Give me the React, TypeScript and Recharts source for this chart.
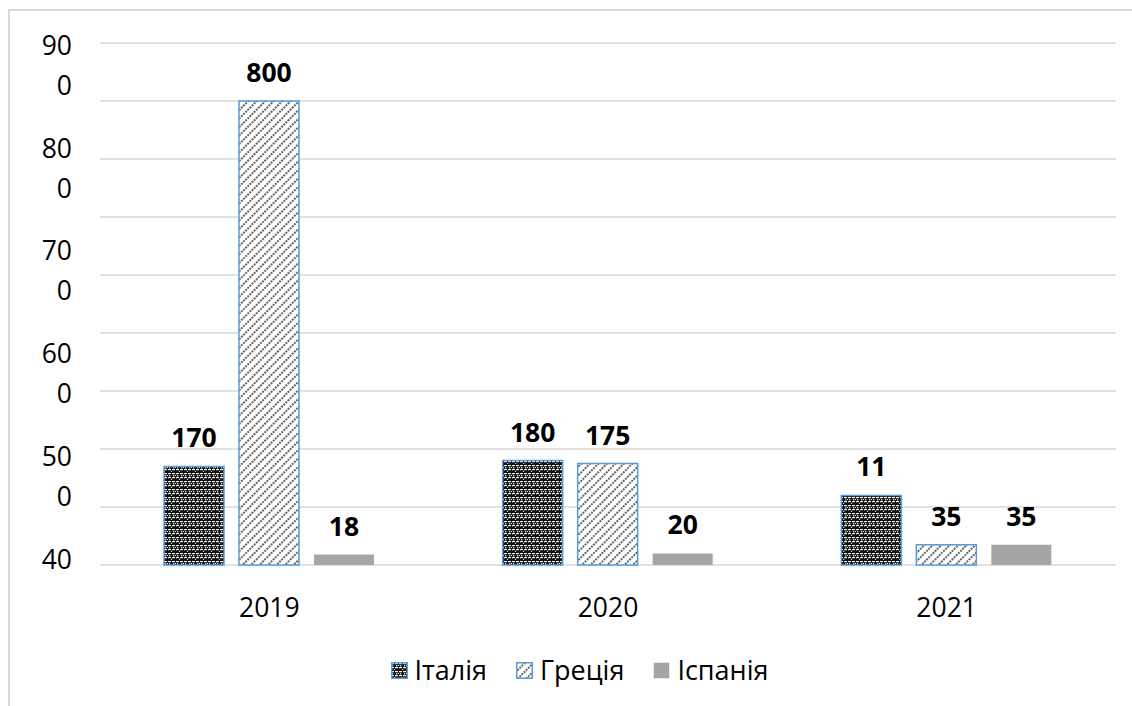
import { BarChart, Bar, XAxis, YAxis, CartesianGrid, LabelList } from "recharts";

const years = ["2019", "2020", "2021"];
const italy = [170, 180, 120];
const italyLabels = ["170", "180", "11"];
const greece = [800, 175, 35];
const spain = [18, 20, 35];

const valueTicks = [0, 100, 200, 300, 400, 500, 600, 700, 800, 900];
const axisLabels = [400, 500, 600, 700, 800, 900];

const series = [
  { key: "italy", name: "Італія", fill: "url(#italyPat)", stroke: "#5b9bd5" },
  { key: "greece", name: "Греція", fill: "url(#greecePat)", stroke: "#5b9bd5" },
  { key: "spain", name: "Іспанія", fill: "#a5a5a5", stroke: "none" },
];

const data = years.map((year, i) => ({
  year,
  italy: italy[i],
  italyLabel: italyLabels[i],
  greece: greece[i],
  spain: spain[i],
}));

const FONT = "'Open Sans', 'DejaVu Sans', sans-serif";
const FS = 26.5;

// підписи осі Y розбиті на два рядки, як в оригіналі
const SplitTick = (props: any) => {
  const { x, y, payload } = props;
  const s = String(payload.value);
  const first = s.slice(0, 2);
  const second = s.slice(2);
  const isLast = payload.value === axisLabels[0];
  return (
    <g>
      <text x={x} y={y + 9.5} textAnchor="end" fontSize={FS} fontFamily={FONT} fill="#000">
        {first}
      </text>
      {!isLast && (
        <text x={x} y={y + 49.5} textAnchor="end" fontSize={FS} fontFamily={FONT} fill="#000">
          {second}
        </text>
      )}
    </g>
  );
};

const Patterns = () => (
  <defs>
    <pattern id="italyPat" width="8" height="8" patternUnits="userSpaceOnUse">
      <rect width="8" height="8" fill="#111" />
      <rect x="0" y="1" width="3" height="1.2" fill="#f2f2f2" />
      <rect x="4" y="1" width="3" height="1.2" fill="#f2f2f2" />
      <rect x="0" y="5" width="3" height="1.2" fill="#f2f2f2" />
      <rect x="4" y="5" width="3" height="1.2" fill="#f2f2f2" />
      <rect x="1" y="3" width="1.2" height="1.5" fill="#d0d0d0" />
      <rect x="5" y="3" width="1.2" height="1.5" fill="#d0d0d0" />
      <rect x="3" y="7" width="1.2" height="1" fill="#d0d0d0" />
      <rect x="7" y="3" width="1" height="1" fill="#ffffff" />
    </pattern>
    <pattern
      id="greecePat"
      width="6"
      height="6"
      patternUnits="userSpaceOnUse"
      patternTransform="rotate(45)"
    >
      <rect width="6" height="6" fill="#ffffff" />
      <line x1="1" y1="0" x2="1" y2="6" stroke="#333" strokeWidth="1.5" strokeDasharray="2 1" />
    </pattern>
  </defs>
);

export default function App() {
  return (
    <div style={{ position: "absolute", left: 0, top: 0, width: 1132, height: 706, background: "#fff", fontFamily: FONT }}>
      <div
        style={{
          position: "absolute",
          left: 8,
          top: 9,
          width: 1124,
          height: 697,
          borderLeft: "2px solid #d9d9d9",
          borderTop: "2px solid #d9d9d9",
          boxSizing: "border-box",
        }}
      />
      <div style={{ position: "absolute", left: 0, top: 0 }}>
        <BarChart
          width={1132}
          height={706}
          data={data}
          margin={{ top: 43, right: 16, left: 8, bottom: 81 }}
          barSize={60}
          barGap={15}
          barCategoryGap="19%"
        >
          <Patterns />
          <CartesianGrid yAxisId="val" vertical={false} stroke="#d9d9d9" strokeWidth={1.5} />
          <XAxis
            dataKey="year"
            height={60}
            axisLine={false}
            tickLine={false}
            tickSize={0}
            tickMargin={33}
            tick={{ fontSize: FS, fontFamily: FONT, fill: "#000" }}
          />
          <YAxis yAxisId="val" hide domain={[0, 900]} ticks={valueTicks} />
          <YAxis
            yAxisId="lbl"
            type="number"
            width={92}
            domain={[395, 902]}
            allowDataOverflow
            ticks={axisLabels}
            interval={0}
            axisLine={false}
            tickLine={false}
            tickSize={0}
            tickMargin={28}
            tick={<SplitTick />}
          />
          {series.map((s) => (
            <Bar
              key={s.key}
              yAxisId="val"
              dataKey={s.key}
              name={s.name}
              fill={s.fill}
              stroke={s.stroke}
              strokeWidth={1.5}
              isAnimationActive={false}
            >
              <LabelList
                dataKey={s.key === "italy" ? "italyLabel" : s.key}
                position="top"
                offset={19}
                style={{ fontSize: FS, fontWeight: 700, fontFamily: FONT, fill: "#000" }}
              />
            </Bar>
          ))}
        </BarChart>
      </div>
      <div
        style={{
          position: "absolute",
          left: 0,
          top: 652,
          width: 1132,
          display: "flex",
          justifyContent: "center",
          gap: 29,
          paddingLeft: 27,
          boxSizing: "border-box",
        }}
      >
        {series.map((s) => (
          <div key={s.key} style={{ display: "flex", alignItems: "center", gap: 7 }}>
            <svg width={17} height={17}>
              <Patterns />
              <rect
                x={0.75}
                y={0.75}
                width={15.5}
                height={15.5}
                fill={s.fill}
                stroke={s.stroke}
                strokeWidth={1.5}
              />
            </svg>
            <span style={{ fontSize: 27, color: "#000", lineHeight: "36px" }}>{s.name}</span>
          </div>
        ))}
      </div>
    </div>
  );
}
